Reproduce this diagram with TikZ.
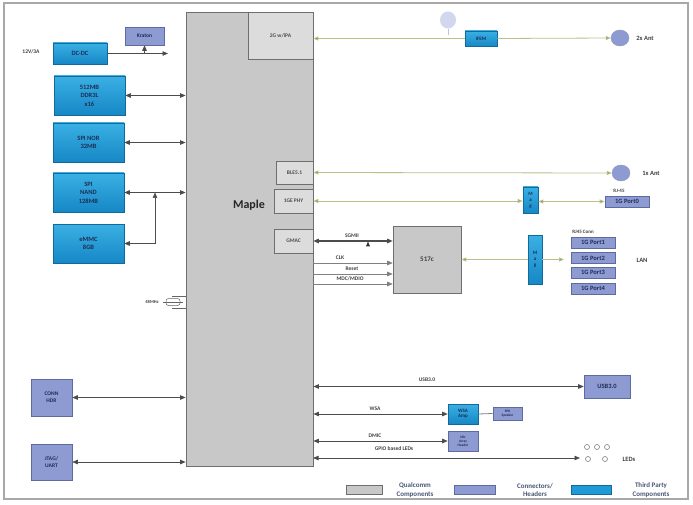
\documentclass[tikz,border=0pt]{standalone}
\usepackage{fontspec}
\setmainfont{Carlito}
\usetikzlibrary{arrows.meta,calc,shapes.geometric}
\definecolor{cblue}{HTML}{1E9BD7}
\definecolor{cblueT}{HTML}{3AB0E4}
\definecolor{cblueB}{HTML}{1688C6}
\definecolor{cblueD}{HTML}{12699A}
\definecolor{cpurp}{HTML}{8E9AD2}
\definecolor{cpurpD}{HTML}{5F6A9E}
\definecolor{cgray}{HTML}{C8C8C8}
\definecolor{cgrayL}{HTML}{DCDCDC}
\definecolor{cgrayD}{HTML}{6E6E6E}
\definecolor{cgreen}{HTML}{BBC08A}
\definecolor{cgreenD}{HTML}{8E9A4C}
\definecolor{ctext}{HTML}{1E2D55}
\definecolor{cframe}{HTML}{A8A8A8}
\begin{document}
\begin{tikzpicture}[x=1pt,y=-1pt,
  boxbase/.style={rectangle, inner sep=0pt, align=center, font=\bfseries\fontsize{6.5}{8.5}\selectfont, text=ctext},
  bluebox/.style={boxbase, draw=cblueD, top color=cblueT, bottom color=cblueB, line width=0.6pt},
  purpbox/.style={boxbase, draw=cpurpD, fill=cpurp, line width=0.6pt},
  graybox/.style={boxbase, draw=cgrayD, fill=cgrayL, line width=0.6pt, text=black!70, font=\bfseries\fontsize{5.5}{7}\selectfont},
  lbl/.style={font=\bfseries\fontsize{5.5}{6.5}\selectfont, text=black!75, inner sep=1pt},
  ar/.style={-{Triangle[length=5.5pt,width=4.5pt]}, draw=black!70, line width=0.7pt},
  bi/.style={{Triangle[length=5.5pt,width=4.5pt]}-{Triangle[length=5.5pt,width=4.5pt]}, draw=black!70, line width=0.7pt},
  gbi/.style={{Triangle[length=5pt,width=4pt,fill=cgreenD]}-{Triangle[length=5pt,width=4pt,fill=cgreenD]}, draw=cgreen, line width=0.8pt},
  gl/.style={{Triangle[length=5pt,width=4pt,fill=cgreenD]}-, draw=cgreen, line width=0.8pt},
  gr/.style={-{Triangle[length=5pt,width=4pt,fill=cgreenD]}, draw=cgreen, line width=0.8pt},
  ant/.style={ellipse, draw=cpurpD!70, fill=cpurp, minimum width=18pt, minimum height=16pt, inner sep=0pt},
  led/.style={circle, draw=black!50, minimum size=5pt, inner sep=0pt, line width=0.6pt},
  legt/.style={font=\bfseries\fontsize{7}{8.5}\selectfont, text=ctext!80, align=center}
]
\useasboundingbox (0,0) rectangle (693,505);
\fill[white] (0,0) rectangle (693,505);
\draw[cframe, line width=1.5pt] (4,3) rectangle (688,499);

% Maple SoC
\node[rectangle, draw=cgrayD, fill=cgray, line width=0.8pt, minimum width=127pt, minimum height=454pt] (maple) at (249.5,239) {};
\node[font=\bfseries\fontsize{12}{14}\selectfont, text=black!85] (maplet) at (249,205) {Maple};
\node[graybox, minimum width=65pt, minimum height=47pt] (g2) at (280.5,35.5) {2G w/iPA};
\node[graybox, minimum width=37pt, minimum height=23pt] (ble) at (294.5,172.5) {BLE5.1};
\node[graybox, minimum width=39pt, minimum height=24pt] (phy) at (293.5,201) {1GE PHY};
\node[graybox, minimum width=39pt, minimum height=24pt] (gmac) at (293.5,241) {GMAC};

% left column
\node[lbl] (v12) at (31,52) {12V/3A};
\node[bluebox, minimum width=54pt, minimum height=21pt] (dcdc) at (80,53.5) {DC-DC};
\node[purpbox, minimum width=39pt, minimum height=18pt, font=\bfseries\fontsize{5.5}{7}\selectfont] (kraton) at (144.5,36) {Kraton};
\node[bluebox, minimum width=71pt, minimum height=39pt] (ddr) at (89.5,95.5) {512MB\\DDR3L\\x16};
\node[bluebox, minimum width=71pt, minimum height=39pt] (nor) at (88.5,142.5) {SPI NOR\\32MB};
\node[bluebox, minimum width=71pt, minimum height=39pt] (nand) at (88.5,192.5) {SPI\\NAND\\128MB};
\node[bluebox, minimum width=71pt, minimum height=39pt] (emmc) at (88.5,243.5) {eMMC\\8GB};
\node[purpbox, minimum width=41pt, minimum height=37pt, font=\bfseries\fontsize{5.5}{7}\selectfont] (conn) at (51.5,397.5) {CONN\\HDR};
\node[purpbox, minimum width=41pt, minimum height=36pt, font=\bfseries\fontsize{5.5}{7}\selectfont] (jtag) at (51.5,462) {JTAG/\\UART};

\coordinate (dcend) at (168,53.5);
\coordinate (dcj) at (144.5,53.5);
\draw[ar] (dcdc.east) -- (dcend);
\draw[ar] (dcj) -- (kraton.south);
\draw[bi] (ddr.east) -- (ddr.east -| maple.west);
\draw[bi] (nor.east) -- (nor.east -| maple.west);
\draw[bi] (nand.east) -- (nand.east -| maple.west);
\coordinate (ej) at (155,243.5);
\coordinate (nj) at (155,192.5);
\draw[ar] (ej) -- (emmc.east);
\draw[ar] (ej) -- (nj);
\draw[bi] (conn.east) -- (conn.east -| maple.west);
\draw[bi] (jtag.east) -- (jtag.east -| maple.west);

% 48MHz crystal
\node[lbl, font=\bfseries\fontsize{4.5}{5}\selectfont] (xtal) at (152,302) {48MHz};
\draw[black!60, line width=0.5pt, rounded corners=2.5pt] (166,298.5) rectangle (180,305.5);
\draw[black!60, line width=0.5pt] (163,302) -- (183,302);
\draw[black!60, line width=0.5pt] (172,296) -- (186,296);
\draw[black!60, line width=0.5pt] (172,308) -- (186,308);

% radio
\node[bluebox, minimum width=32pt, minimum height=15pt, font=\bfseries\fontsize{5}{6}\selectfont] (ifem) at (481,38.5) {iFEM};
\node[ant] (ant2) at (620,38) {};
\node[lbl, font=\bfseries\fontsize{6.5}{7.5}\selectfont] (ant2t) at (645,38) {2x Ant};
\node[ellipse, fill=cpurp!40, draw=none, minimum width=16pt, minimum height=17pt, inner sep=0pt] (antf) at (448,20) {};
\coordinate (antfs) at (448,35);
\draw[cpurp!60, line width=0.5pt] (antf.south) -- (antfs);
\draw[gl] (g2.east |- ifem.west) -- (ifem.west);
\draw[gr] (ifem.east) -- (ant2.west);

\node[ant] (ant1) at (621,173) {};
\node[lbl, font=\bfseries\fontsize{6.5}{7.5}\selectfont] (ant1t) at (651,173) {1x Ant};
\draw[gbi] (ble.east) -- (ant1.west);

\node[bluebox, minimum width=15pt, minimum height=26pt, font=\bfseries\fontsize{5}{6}\selectfont] (mag1) at (530.5,200) {M\\a\\g};
\node[purpbox, minimum width=44pt, minimum height=11pt, font=\bfseries\fontsize{6.5}{7}\selectfont] (p0) at (627,201.5) {1G Port0};
\node[lbl, font=\bfseries\fontsize{5}{5.5}\selectfont] (rj45) at (619,190.5) {RJ-45};
\draw[gbi] (phy.east) -- (phy.east -| mag1.west);
\draw[gbi] (mag1.east |- p0.west) -- (p0.west);

% switch
\node[rectangle, draw=cgrayD, fill=cgray, line width=0.6pt, minimum width=68pt, minimum height=67pt, font=\bfseries\fontsize{7}{8}\selectfont, text=black!75] (sw) at (427,259.5) {517c};
\draw[bi, line width=1.2pt] (gmac.east) -- (gmac.east -| sw.west);
\node[lbl] (sgmii) at (352,235.5) {SGMII};
\node[isosceles triangle, shape border rotate=90, fill=black!80, minimum width=4pt, minimum height=3.5pt, inner sep=0pt] (smallt) at (368,245) {};
\coordinate (clkS) at (313,263);
\coordinate (rstS) at (313,274);
\coordinate (mdcS) at (313,284);
\draw[ar, draw=black!50] (clkS) -- (clkS -| sw.west);
\draw[ar, draw=black!50] (rstS) -- (rstS -| sw.west);
\draw[ar, draw=black!50] (mdcS) -- (mdcS -| sw.west);
\node[lbl] (clkt) at (340,257.5) {CLK};
\node[lbl] (rstt) at (352,268.5) {Reset};
\node[lbl] (mdct) at (350,278.5) {MDC/MDIO};

\node[bluebox, minimum width=14pt, minimum height=49pt, font=\bfseries\fontsize{5}{6}\selectfont] (mag2) at (535,259.5) {M\\a\\g};
\draw[gl] (sw.east |- mag2.west) -- (mag2.west);
\coordinate (lanend) at (564,259.5);
\draw[gr] (mag2.east) -- (lanend);
\node[lbl, font=\bfseries\fontsize{5}{5.5}\selectfont] (rjc) at (583,231.5) {RJ45 Conn};
\node[purpbox, minimum width=44pt, minimum height=11pt, font=\bfseries\fontsize{6.5}{7}\selectfont] (p1) at (593,242.5) {1G Port1};
\node[purpbox, minimum width=44pt, minimum height=11pt, font=\bfseries\fontsize{6.5}{7}\selectfont] (p2) at (593,258) {1G Port2};
\node[purpbox, minimum width=44pt, minimum height=11pt, font=\bfseries\fontsize{6.5}{7}\selectfont] (p3) at (593,272.5) {1G Port3};
\node[purpbox, minimum width=44pt, minimum height=11pt, font=\bfseries\fontsize{6.5}{7}\selectfont] (p4) at (593,288.5) {1G Port4};
\node[lbl, font=\bfseries\fontsize{6.5}{7.5}\selectfont] (lan) at (642,260) {LAN};

% bottom peripherals
\node[purpbox, minimum width=46pt, minimum height=23pt, font=\bfseries\fontsize{6.5}{7.5}\selectfont] (usb) at (607,386.5) {USB3.0};
\draw[bi] (usb.west -| maple.east) -- (usb.west);
\node[lbl] (usbt) at (427,379.5) {USB3.0};

\node[bluebox, minimum width=30pt, minimum height=20pt, font=\bfseries\fontsize{5}{5.5}\selectfont] (wsa) at (463,414) {WSA\\Amp};
\node[purpbox, minimum width=29pt, minimum height=13pt, font=\bfseries\fontsize{3.5}{4}\selectfont] (spk) at (507.5,413.5) {SPK\\Speaker};
\draw[bi] (wsa.west -| maple.east) -- (wsa.west);
\draw[black!50, line width=0.8pt] (wsa.east) -- (spk.west);
\node[lbl] (wsat) at (375,408.5) {WSA};

\node[purpbox, minimum width=30pt, minimum height=20pt, font=\bfseries\fontsize{3.5}{4}\selectfont] (mic) at (463,441) {Mic\\Array\\Header};
\draw[bi] (mic.west -| maple.east) -- (mic.west);
\node[lbl] (dmict) at (375,435.5) {DMIC};

\coordinate (gpioS) at (313,458);
\coordinate (gpioE) at (580,458);
\draw[bi] (gpioS) -- (gpioE);
\node[lbl] (gpiot) at (394,449) {GPIO based LEDs};
\node[led] (l1) at (587,447) {};
\node[led] (l2) at (597,447) {};
\node[led] (l3) at (607,447) {};
\node[led] (l4) at (588,459) {};
\node[led] (l5) at (605,459) {};
\node[lbl, font=\bfseries\fontsize{6.5}{7.5}\selectfont] (ledt) at (629,459) {LEDs};

% legend
\node[rectangle, draw=cgrayD, fill=cgray, minimum width=36pt, minimum height=9pt, inner sep=0pt] (lg1) at (364,489.5) {};
\node[legt] (lg1t) at (415,490) {Qualcomm\\Components};
\node[rectangle, draw=cpurpD, fill=cpurp, minimum width=41pt, minimum height=9pt, inner sep=0pt] (lg2) at (474.5,489.5) {};
\node[legt] (lg2t) at (535,490) {Connectors/\\Headers};
\node[rectangle, draw=cblueD, fill=cblue, minimum width=40pt, minimum height=9pt, inner sep=0pt] (lg3) at (591,489.5) {};
\node[legt] (lg3t) at (651,490) {Third Party\\Components};
\end{tikzpicture}
\end{document}
